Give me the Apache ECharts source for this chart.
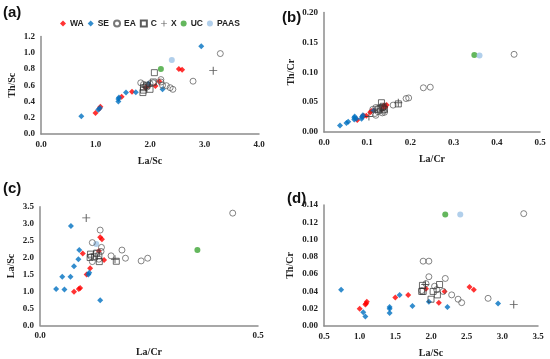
<!DOCTYPE html>
<html><head><meta charset="utf-8">
<script src="https://cdn.jsdelivr.net/npm/echarts@6/dist/echarts.min.js"></script>
<style>html,body{margin:0;padding:0;background:#fff}#c{width:550px;height:359px}</style>
</head><body><div id="c"></div>
<script>
// Panel (a): La/Sc vs Th/Sc
const aWA = [[1.0,0.26],[1.07,0.31],[1.09,0.335],[1.48,0.46],[1.67,0.52],[1.92,0.57],[1.97,0.60],[2.1,0.59],[2.17,0.65],[2.53,0.80],[2.59,0.79]];
const aSE = [[0.74,0.22],[1.05,0.30],[1.08,0.32],[1.42,0.40],[1.42,0.43],[1.43,0.45],[1.56,0.51],[1.74,0.515],[1.97,0.62],[2.23,0.55],[2.94,1.08]];
const aEA = [[1.83,0.63],[1.88,0.61],[1.92,0.59],[2.0,0.62],[2.06,0.63],[2.2,0.67],[2.2,0.64],[2.23,0.60],[2.3,0.595],[2.37,0.57],[2.42,0.55],[2.79,0.65],[3.29,0.99],[1.95,0.58]];
const aC  = [[2.08,0.755],[1.88,0.57],[1.88,0.54],[1.87,0.51],[2.0,0.55],[2.06,0.64],[1.94,0.60]];
const aX  = [[3.16,0.78],[1.93,0.58]];
const aUC = [[2.2,0.80]];
const aPAAS = [[2.4,0.91]];
// Panel (b): La/Cr vs Th/Cr
const bWA = [[0.077,0.020],[0.089,0.026],[0.092,0.027],[0.098,0.027],[0.107,0.033],[0.115,0.036],[0.135,0.039],[0.138,0.044],[0.142,0.042],[0.145,0.045],[0.110,0.035]];
const bSE = [[0.037,0.011],[0.052,0.015],[0.056,0.017],[0.07,0.021],[0.07,0.024],[0.071,0.026],[0.075,0.022],[0.088,0.025],[0.09,0.028],[0.087,0.022],[0.115,0.036]];
const bEA = [[0.113,0.038],[0.118,0.031],[0.12,0.028],[0.125,0.034],[0.13,0.036],[0.135,0.032],[0.138,0.036],[0.14,0.033],[0.16,0.045],[0.19,0.056],[0.196,0.057],[0.23,0.074],[0.246,0.075],[0.44,0.13],[0.12,0.041]];
const bC  = [[0.133,0.049],[0.135,0.041],[0.13,0.04],[0.137,0.043],[0.125,0.038],[0.172,0.047],[0.14,0.038]];
const bX  = [[0.104,0.026],[0.172,0.049]];
const bUC = [[0.348,0.129]];
const bPAAS = [[0.36,0.128]];
// Panel (c): La/Cr vs La/Sc
const cWA = [[0.078,0.99],[0.089,1.07],[0.092,1.10],[0.107,1.50],[0.115,1.68],[0.098,2.12],[0.135,2.19],[0.138,2.60],[0.142,2.54],[0.147,1.93]];
const cSE = [[0.037,1.07],[0.056,1.06],[0.051,1.43],[0.07,1.43],[0.078,1.74],[0.088,1.95],[0.09,2.22],[0.071,2.93],[0.113,1.55],[0.111,1.50],[0.138,0.74]];
const cEA = [[0.442,3.31],[0.138,2.81],[0.12,2.44],[0.141,2.30],[0.188,2.22],[0.163,2.05],[0.196,1.98],[0.232,1.90],[0.247,1.98],[0.128,2.12],[0.14,2.18],[0.12,1.88],[0.135,1.95],[0.117,2.03]];
const cC  = [[0.116,2.10],[0.13,2.13],[0.136,1.88],[0.115,2.0],[0.175,1.89],[0.135,2.05],[0.125,2.02]];
const cX  = [[0.106,3.17],[0.172,1.95]];
const cUC = [[0.361,2.22]];
const cPAAS = [[0.129,2.40]];
// Panel (d): La/Sc vs Th/Cr
const dWA = [[1.0,0.020],[1.09,0.026],[1.1,0.028],[1.08,0.025],[1.5,0.033],[1.68,0.036],[1.93,0.043],[2.11,0.027],[2.19,0.040],[2.54,0.045],[2.6,0.042]];
const dSE = [[0.74,0.042],[1.05,0.016],[1.08,0.011],[1.42,0.022],[1.42,0.020],[1.42,0.015],[1.56,0.036],[1.74,0.023],[1.97,0.028],[2.23,0.022],[2.94,0.026]];
const dEA = [[1.89,0.075],[1.97,0.075],[1.97,0.057],[2.2,0.055],[2.05,0.046],[1.87,0.041],[2.17,0.040],[2.29,0.036],[2.38,0.031],[2.43,0.027],[2.8,0.032],[3.3,0.13],[1.93,0.049],[2.08,0.042]];
const dC  = [[1.88,0.047],[1.87,0.040],[1.89,0.040],[2.12,0.048],[2.03,0.040],[2.09,0.036],[2.0,0.031]];
const dX  = [[3.16,0.025],[1.92,0.048]];
const dUC = [[2.2,0.129]];
const dPAAS = [[2.41,0.129]];

const groupNames = ['WA','SE','EA','C','X','UC','PAAS'];
const panelData = [
  [aWA,aSE,aEA,aC,aX,aUC,aPAAS],
  [bWA,bSE,bEA,bC,bX,bUC,bPAAS],
  [cWA,cSE,cEA,cC,cX,cUC,cPAAS],
  [dWA,dSE,dEA,dC,dX,dUC,dPAAS]
];
const plusPath = 'path://M4.4,0h1.2v10h-1.2zM0,4.4h10v1.2h-10z';
const styles = {
  WA:{symbol:'diamond',symbolSize:6,itemStyle:{color:'#FF0000'}},
  SE:{symbol:'diamond',symbolSize:6,itemStyle:{color:'#0070C0'}},
  EA:{symbol:'circle',symbolSize:6,itemStyle:{color:'rgba(255,255,255,0)',borderColor:'#555',borderWidth:0.9}},
  C:{symbol:'rect',symbolSize:6,itemStyle:{color:'rgba(255,255,255,0)',borderColor:'#333',borderWidth:0.9}},
  X:{symbol:plusPath,symbolSize:8,itemStyle:{color:'#333'}},
  UC:{symbol:'circle',symbolSize:6,itemStyle:{color:'#3DA535'}},
  PAAS:{symbol:'circle',symbolSize:6,itemStyle:{color:'#9DC3E6'}}
};
const grids = [
  {left:41,top:36.5,width:218,height:97.5},
  {left:324,top:12.5,width:216,height:119.5},
  {left:40,top:206.7,width:218,height:118.6},
  {left:324,top:205,width:214,height:121.7}
];
const serif = 'Liberation Serif, Times New Roman, serif';
const axisLineStyle = {show:true,lineStyle:{color:'#8c8c8c',width:1.5}};
function xa(i,min,max,interval,dec,name,gap){
  return {gridIndex:i,type:'value',min,max,interval,name,nameLocation:'middle',nameGap:gap,
    nameTextStyle:{fontFamily:serif,fontWeight:'bold',fontSize:10,color:'#222'},
    axisLine:axisLineStyle,axisTick:{show:false},splitLine:{show:false},
    axisLabel:{fontFamily:serif,fontWeight:'bold',fontSize:9,color:'#222',margin:6,formatter:v=>v.toFixed(dec)}};
}
function ya(i,min,max,interval,dec,name,gap){
  return {gridIndex:i,type:'value',min,max,interval,name,nameLocation:'middle',nameGap:gap,nameRotate:90,
    nameTextStyle:{fontFamily:serif,fontWeight:'bold',fontSize:10,color:'#222'},
    axisLine:axisLineStyle,axisTick:{show:false},splitLine:{show:false},
    axisLabel:{fontFamily:serif,fontWeight:'bold',fontSize:9,color:'#222',margin:6,formatter:v=>v.toFixed(dec)}};
}
const xAxis = [
  xa(0,0,4,1,1,'La/Sc',22),
  xa(1,0,0.5,0.1,1,'La/Cr',22),
  xa(2,0,0.5,0.5,1,'La/Cr',22),
  xa(3,0.5,3.5,0.5,1,'La/Sc',22)
];
const yAxis = [
  ya(0,0,1.2,0.2,1,'Th/Sc',24),
  ya(1,0,0.2,0.05,2,'Th/Cr',28),
  ya(2,0,3.5,0.5,1,'La/Sc',24),
  ya(3,0,0.14,0.02,2,'Th/Cr',29)
];
const series = [];
panelData.forEach((arrs,p)=>{
  arrs.forEach((d,g)=>{
    const n = groupNames[g];
    series.push(Object.assign({type:'scatter',name:n,xAxisIndex:p,yAxisIndex:p,data:d,animation:false,z:(n==='EA'||n==='C')?3:2},JSON.parse(JSON.stringify(styles[n]))));
  });
});
const chart = echarts.init(document.getElementById('c'),null,{renderer:'canvas'});
chart.setOption({
  backgroundColor:'#fff',
  animation:false,
  grid:grids,
  xAxis, yAxis, series,
  legend:{data:groupNames,left:55,top:14,itemWidth:6,itemHeight:6,itemGap:4,
    textStyle:{fontFamily:'Liberation Sans, Arial, sans-serif',fontWeight:'bold',fontSize:8.5,color:'#222',padding:[0,0,0,-1]}},
  graphic:[
    {type:'text',left:3,top:5,style:{text:'(a)',font:'bold 15px Liberation Sans, Arial',fill:'#111'}},
    {type:'text',left:282,top:10,style:{text:'(b)',font:'bold 15px Liberation Sans, Arial',fill:'#111'}},
    {type:'text',left:3,top:181,style:{text:'(c)',font:'bold 15px Liberation Sans, Arial',fill:'#111'}},
    {type:'text',left:287,top:191,style:{text:'(d)',font:'bold 15px Liberation Sans, Arial',fill:'#111'}}
  ]
});
</script></body></html>
